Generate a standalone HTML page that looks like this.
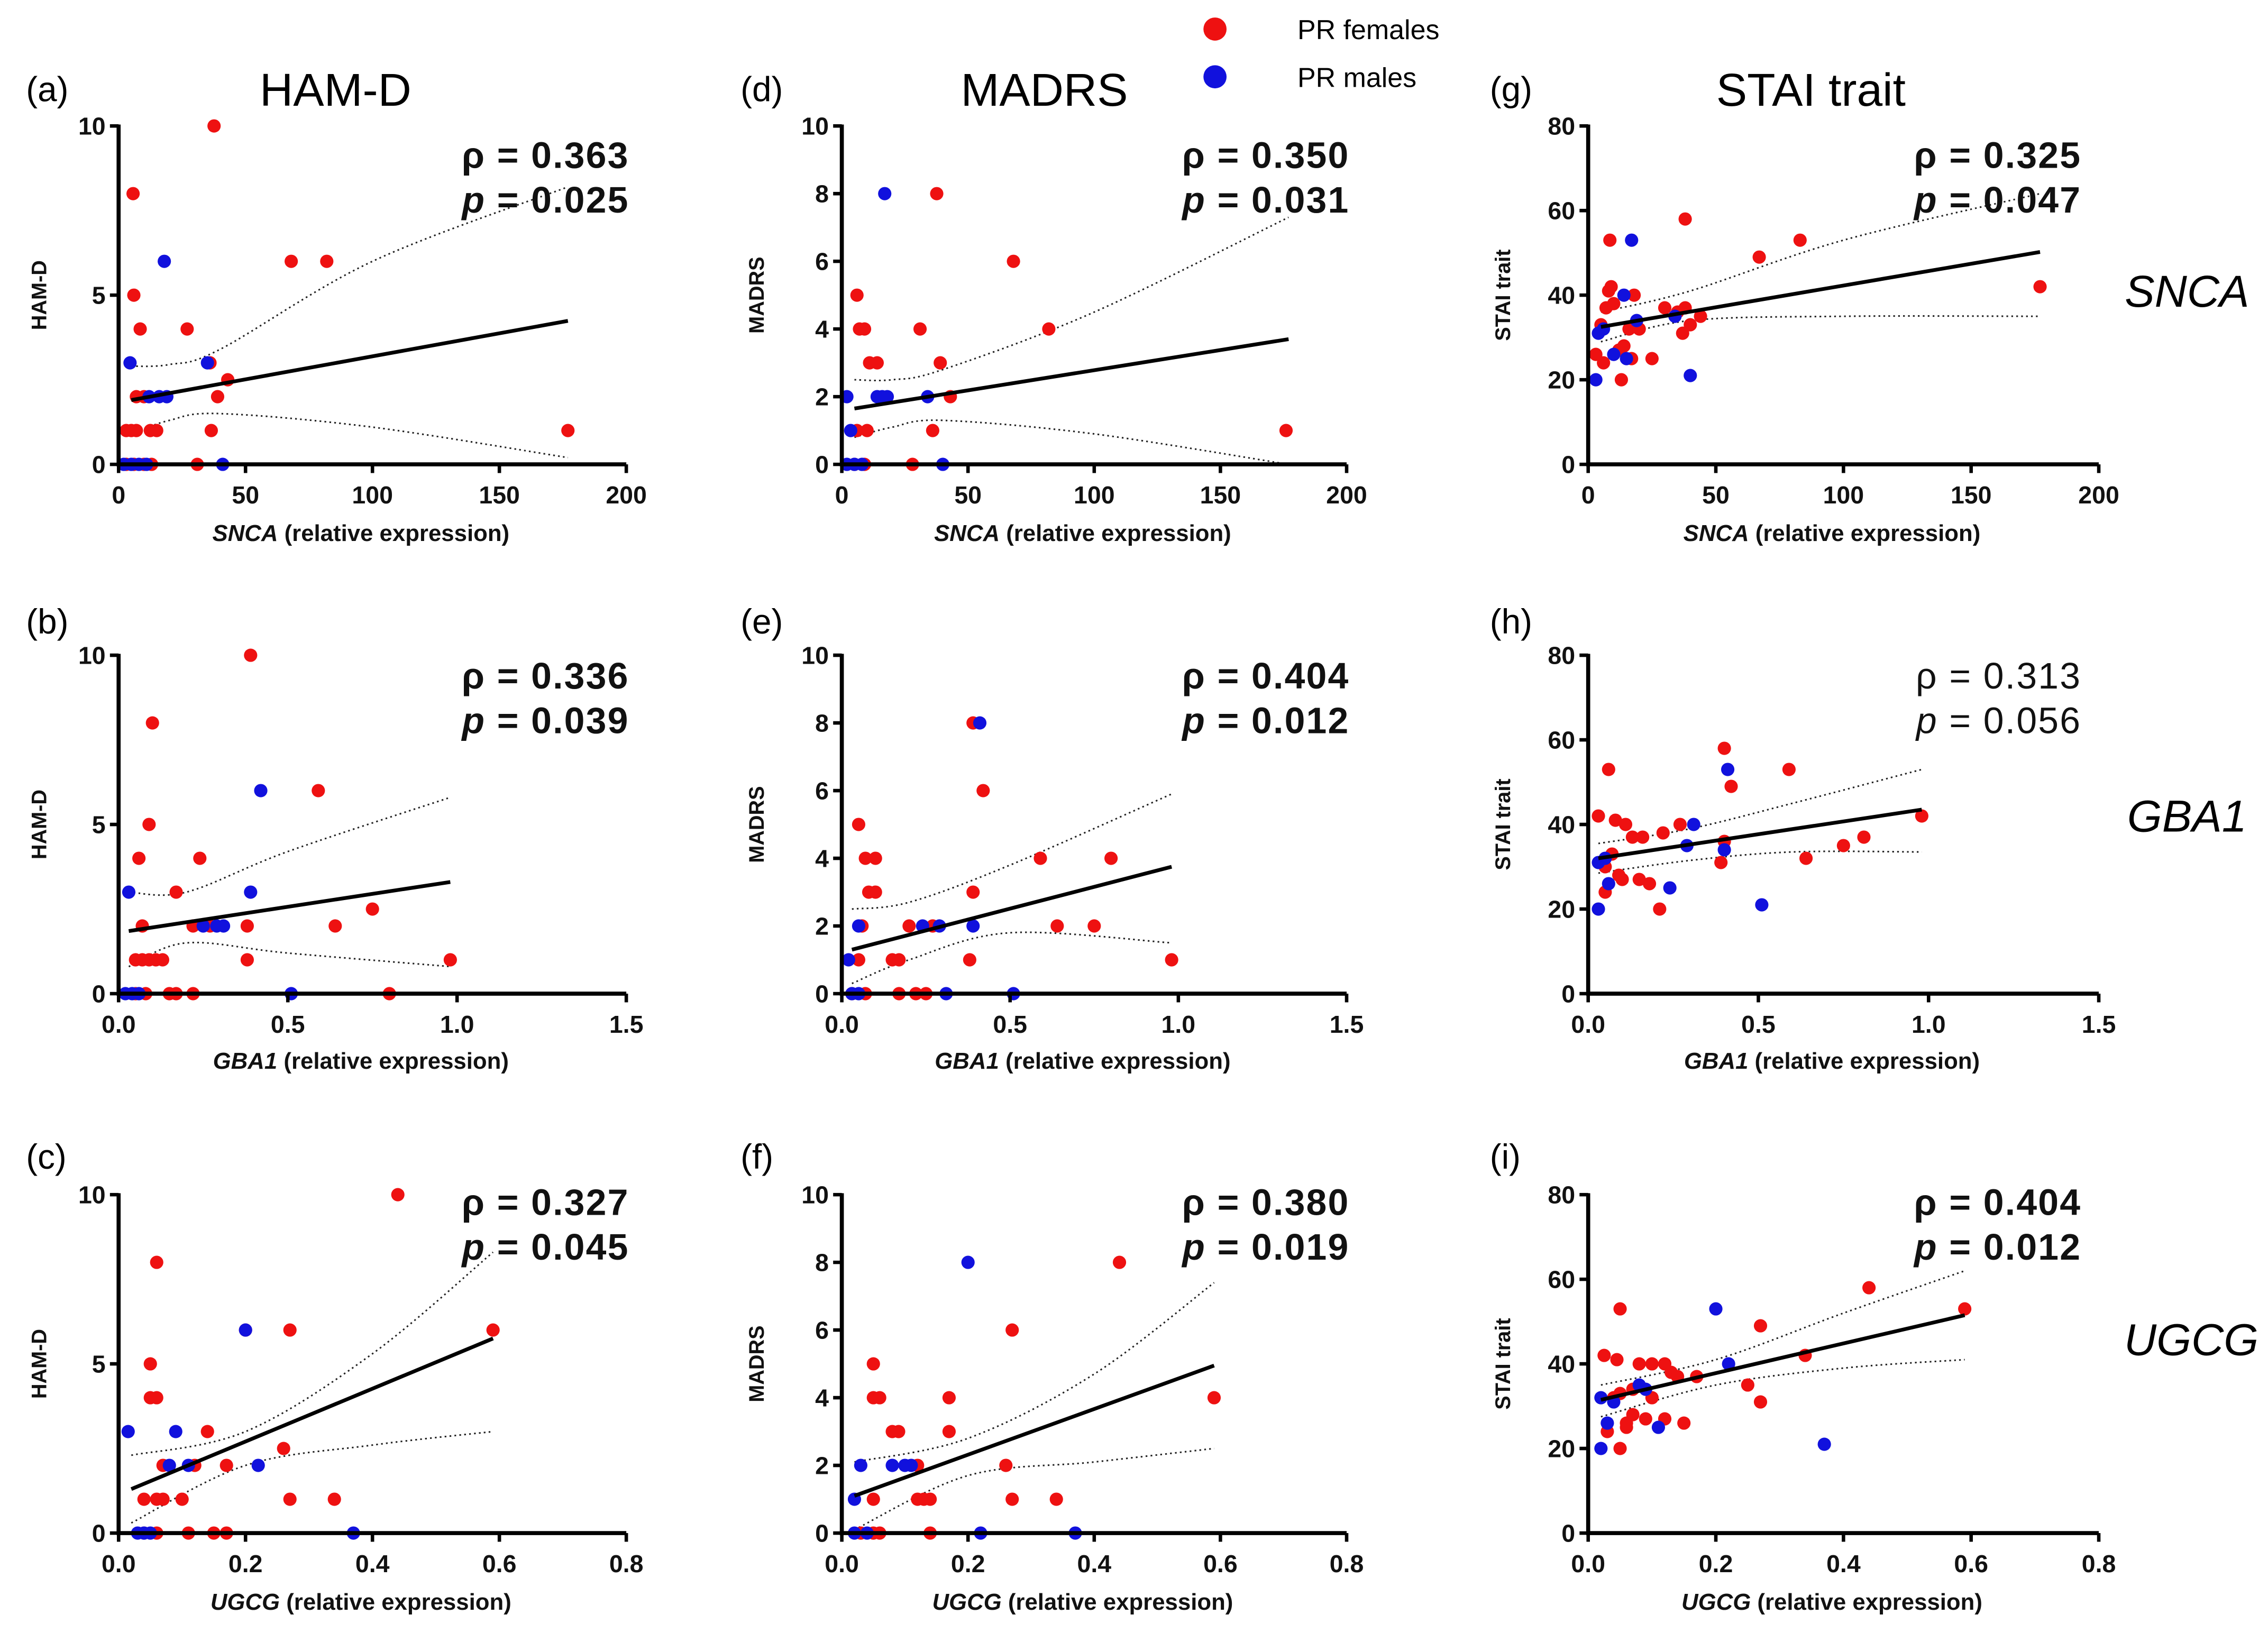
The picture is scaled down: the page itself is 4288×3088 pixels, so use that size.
<!DOCTYPE html>
<html><head><meta charset="utf-8"><style>
html,body{margin:0;padding:0;background:#fff;}
svg{display:block;font-family:"Liberation Sans",Arial,sans-serif;}
</style></head><body>
<svg id="fig" width="4288" height="3088" viewBox="0 0 1568 1129" xmlns="http://www.w3.org/2000/svg">
<rect width="1568" height="1129" fill="#fff"/>
<g>
<circle cx="840" cy="20" r="8" fill="#ee1111"/>
<text x="897" y="27" font-size="19">PR females</text>
<circle cx="840" cy="53" r="8" fill="#1111dd"/>
<text x="897" y="60" font-size="19">PR males</text>
</g>
<text x="232" y="73" font-size="32" text-anchor="middle">HAM-D</text>
<text x="722" y="73" font-size="32" text-anchor="middle">MADRS</text>
<text x="1252" y="73" font-size="32" text-anchor="middle">STAI trait</text>
<text x="1512" y="212" font-size="31" font-style="italic" text-anchor="middle">SNCA</text>
<text x="1512" y="575" font-size="31" font-style="italic" text-anchor="middle">GBA1</text>
<text x="1515" y="937" font-size="31" font-style="italic" text-anchor="middle">UGCG</text>
</svg>
<script>
// ---- data (x, y pairs) ----
const panelIds = ['a','b','c','d','e','f','g','h','i'];
const rhoLabels = ['0.363','0.336','0.327','0.350','0.404','0.380','0.325','0.313','0.404'];
const pLabels = ['0.025','0.039','0.045','0.031','0.012','0.019','0.047','0.056','0.012'];
const snacTicks = [0,50,100,150,200];
const gbaTicks = [0,0.5,1.0,1.5];
const ugcgTicks = [0,0.2,0.4,0.6,0.8];
const hamdTicks = [0,5,10];
const madrsTicks = [0,2,4,6,8,10];
const staiTicks = [0,20,40,60,80];

const redA = [[37.6,10],[5.7,8],[6,5],[8.5,4],[27,4],[68,6],[82,6],[36,3],[7,2],[10,2],[39,2],[43,2.5],[3,1],[5,1],[7,1],[12.5,1],[15,1],[36.5,1],[177,1],[3,0],[6,0],[10,0],[13,0],[31,0]];
const blueA = [[18,6],[4.5,3],[35,3],[12,2],[16,2],[19,2],[2,0],[5,0],[8,0],[11,0],[41,0]];
const fitA = [[5,1.9],[177,4.24]];
const ciUpA = [[5,2.9],[20,2.95],[40,3.4],[100,6.0],[177,8.2]];
const ciLoA = [[5,0.9],[20,1.3],[40,1.5],[100,1.1],[177,0.2]];

const redD = [[37.6,8],[68,6],[82,4],[31,4],[6,5],[7,4],[9,4],[11,3],[14,3],[39,3],[43,2],[6,1],[10,1],[36,1],[176,1],[5,0],[9,0],[28,0]];
const blueD = [[17,8],[2,2],[14,2],[16,2],[18,2],[34,2],[3.5,1],[2,0],[5,0],[8,0],[40,0]];
const fitD = [[5,1.65],[177,3.7]];
const ciUpD = [[5,2.5],[20,2.5],[40,2.8],[100,4.5],[177,7.3]];
const ciLoD = [[5,0.8],[20,1.1],[40,1.3],[100,0.9],[177,0]];

const redG = [[8.5,53],[38,58],[83,53],[67,49],[177,42],[5,33],[7,37],[8,41],[9,42],[10,38],[12,27],[14,28],[16,32],[18,40],[20,32],[3,26],[6,24],[25,25],[30,37],[35,36],[38,37],[40,33],[44,35],[13,20],[37,31],[17,25]];
const blueG = [[3,20],[4,31],[6,32],[10,26],[14,40],[17,53],[19,34],[34,35],[40,21],[15,25]];
const fitG = [[5,32.5],[177,50.2]];
const ciUpG = [[5,36],[40,41],[100,53],[177,64]];
const ciLoG = [[5,29],[40,34],[100,35],[177,35]];

const redB = [[0.39,10],[0.1,8],[0.09,5],[0.06,4],[0.24,4],[0.59,6],[0.17,3],[0.07,2],[0.22,2],[0.27,2],[0.38,2],[0.64,2],[0.75,2.5],[0.05,1],[0.07,1],[0.09,1],[0.11,1],[0.13,1],[0.38,1],[0.98,1],[0.15,0],[0.17,0],[0.22,0],[0.8,0],[0.05,0],[0.08,0]];
const blueB = [[0.42,6],[0.03,3],[0.39,3],[0.25,2],[0.29,2],[0.31,2],[0.04,0],[0.06,0],[0.02,0],[0.51,0]];
const fitB = [[0.03,1.85],[0.98,3.3]];
const ciUpB = [[0.03,3.0],[0.2,3.0],[0.5,4.2],[0.98,5.8]];
const ciLoB = [[0.03,0.8],[0.2,1.5],[0.5,1.2],[0.98,0.8]];

const redE = [[0.39,8],[0.42,6],[0.05,5],[0.07,4],[0.1,4],[0.59,4],[0.8,4],[0.08,3],[0.1,3],[0.39,3],[0.06,2],[0.2,2],[0.27,2],[0.64,2],[0.75,2],[0.05,1],[0.15,1],[0.17,1],[0.38,1],[0.98,1],[0.03,0],[0.07,0],[0.17,0],[0.22,0],[0.25,0]];
const blueE = [[0.41,8],[0.05,2],[0.24,2],[0.29,2],[0.39,2],[0.02,1],[0.03,0],[0.05,0],[0.31,0],[0.51,0]];
const fitE = [[0.03,1.3],[0.98,3.75]];
const ciUpE = [[0.03,2.5],[0.2,2.7],[0.5,3.8],[0.98,5.9]];
const ciLoE = [[0.03,0.3],[0.2,1.0],[0.5,1.8],[0.98,1.5]];

const redH = [[0.06,53],[0.4,58],[0.59,53],[0.42,49],[0.03,42],[0.08,41],[0.11,40],[0.13,37],[0.16,37],[0.22,38],[0.27,40],[0.4,36],[0.75,35],[0.81,37],[0.98,42],[0.05,30],[0.09,28],[0.1,27],[0.15,27],[0.18,26],[0.39,31],[0.64,32],[0.05,24],[0.21,20],[0.07,33]];
const blueH = [[0.41,53],[0.31,40],[0.03,31],[0.05,32],[0.06,26],[0.03,20],[0.24,25],[0.29,35],[0.4,34],[0.51,21]];
const fitH = [[0.03,32],[0.98,43.5]];
const ciUpH = [[0.03,35.5],[0.3,39],[0.6,45],[0.98,53]];
const ciLoH = [[0.03,28.5],[0.3,31.5],[0.6,33.5],[0.98,33.5]];

const redC = [[0.44,10],[0.06,8],[0.2,6],[0.27,6],[0.59,6],[0.05,5],[0.05,4],[0.06,4],[0.14,3],[0.26,2.5],[0.17,2],[0.12,2],[0.07,2],[0.1,1],[0.04,1],[0.06,1],[0.07,1],[0.27,1],[0.34,1],[0.11,0],[0.15,0],[0.17,0],[0.06,0],[0.04,0]];
const blueC = [[0.2,6],[0.09,3],[0.015,3],[0.08,2],[0.11,2],[0.22,2],[0.37,0],[0.03,0],[0.04,0],[0.05,0]];
const fitC = [[0.02,1.3],[0.59,5.75]];
const ciUpC = [[0.02,2.3],[0.2,3.0],[0.4,5.3],[0.59,8.3]];
const ciLoC = [[0.02,0.3],[0.2,2.0],[0.4,2.6],[0.59,3.0]];

const redF = [[0.44,8],[0.27,6],[0.59,4],[0.05,5],[0.05,4],[0.06,4],[0.17,4],[0.08,3],[0.09,3],[0.17,3],[0.26,2],[0.12,2],[0.05,1],[0.12,1],[0.13,1],[0.14,1],[0.27,1],[0.34,1],[0.03,0],[0.05,0],[0.06,0],[0.14,0]];
const blueF = [[0.2,8],[0.03,2],[0.08,2],[0.1,2],[0.11,2],[0.02,1],[0.22,0],[0.37,0],[0.02,0],[0.04,0]];
const fitF = [[0.02,1.1],[0.59,4.95]];
const ciUpF = [[0.02,2.1],[0.2,2.8],[0.4,4.7],[0.59,7.4]];
const ciLoF = [[0.02,0.1],[0.2,1.7],[0.4,2.1],[0.59,2.5]];

const redI = [[0.59,53],[0.44,58],[0.05,53],[0.27,49],[0.34,42],[0.025,42],[0.045,41],[0.08,40],[0.1,40],[0.12,40],[0.13,38],[0.14,37],[0.17,37],[0.25,35],[0.07,34],[0.05,33],[0.04,32],[0.27,31],[0.1,32],[0.07,28],[0.09,27],[0.06,26],[0.12,27],[0.15,26],[0.03,24],[0.05,20],[0.06,25]];
const blueI = [[0.2,53],[0.22,40],[0.04,31],[0.08,35],[0.09,34],[0.02,32],[0.03,26],[0.02,20],[0.11,25],[0.37,21]];
const fitI = [[0.02,31.5],[0.59,51.5]];
const ciUpI = [[0.02,35],[0.2,41],[0.4,52],[0.59,62]];
const ciLoI = [[0.02,27.5],[0.2,35],[0.4,39],[0.59,41]];

// ---- layout ----
const NS='http://www.w3.org/2000/svg';
const svg=document.getElementById('fig');
function el(tag,attrs,parent){const e=document.createElementNS(NS,tag);for(const k in attrs)e.setAttribute(k,attrs[k]);(parent||svg).appendChild(e);return e;}
const colX=[[82,433],[582,931],[1098,1451]];
const rowY=[[321,87],[687,453],[1060,826]];
const xTitleY=[374,739,1113];
const yTitleX=[32,528,1044];
const letterX=[18,512,1030];
const letterY=[70,438,808];
const statY=[116,476,840];
const genes=['SNCA','GBA1','UGCG'];
const xTickSets=[snacTicks,gbaTicks,ugcgTicks];
const xMaxes=[200,1.5,0.8];
const yTickSets=[hamdTicks,madrsTicks,staiTicks];
const yMaxes=[10,10,80];
const yNames=['HAM-D','MADRS','STAI trait'];
const reds=[[redA,redB,redC],[redD,redE,redF],[redG,redH,redI]];
const blues=[[blueA,blueB,blueC],[blueD,blueE,blueF],[blueG,blueH,blueI]];
const fits=[[fitA,fitB,fitC],[fitD,fitE,fitF],[fitG,fitH,fitI]];
const ups=[[ciUpA,ciUpB,ciUpC],[ciUpD,ciUpE,ciUpF],[ciUpG,ciUpH,ciUpI]];
const los=[[ciLoA,ciLoB,ciLoC],[ciLoD,ciLoE,ciLoF],[ciLoG,ciLoH,ciLoI]];

function fmtX(v,r){return r===0?String(v):v.toFixed(1);}

function smoothPath(pts,sx,sy){
  const P=pts.map(p=>[sx(p[0]),sy(p[1])]);
  let d='M'+P[0][0]+','+P[0][1];
  for(let i=0;i<P.length-1;i++){
    const p0=P[Math.max(0,i-1)],p1=P[i],p2=P[i+1],p3=P[Math.min(P.length-1,i+2)];
    const c1=[p1[0]+(p2[0]-p0[0])/6,p1[1]+(p2[1]-p0[1])/6];
    const c2=[p2[0]-(p3[0]-p1[0])/6,p2[1]-(p3[1]-p1[1])/6];
    d+=' C'+c1[0]+','+c1[1]+' '+c2[0]+','+c2[1]+' '+p2[0]+','+p2[1];
  }
  return d;
}

for(let c=0;c<3;c++){
  for(let r=0;r<3;r++){
    const idx=c*3+r;
    const id=panelIds[idx];
    const [x0,x1]=colX[c];const [y0,y1]=rowY[r];
    const xm=xMaxes[r], ym=yMaxes[c];
    const sx=v=>x0+(x1-x0)*v/xm;
    const sy=v=>y0+(y1-y0)*v/ym;
    const g=el('g',{});
    
    
    const lt=el('text',{x:letterX[c],y:letterY[r],'font-size':24},g);lt.textContent='('+id+')';
    
    
    const cu=el('path',{d:smoothPath(ups[c][r],sx,sy),fill:'none',stroke:'#222','stroke-width':1.1,'stroke-dasharray':'1.2,2.2'},g);
    
    
    const cl=el('path',{d:smoothPath(los[c][r],sx,sy),fill:'none',stroke:'#222','stroke-width':1.1,'stroke-dasharray':'1.2,2.2'},g);
    
    
    reds[c][r].forEach(p=>{const e=el('circle',{cx:sx(p[0]),cy:sy(p[1]),r:4.6,fill:'#ee1111'},g);
      
      });
    blues[c][r].forEach(p=>{const e=el('circle',{cx:sx(p[0]),cy:sy(p[1]),r:4.6,fill:'#1111dd'},g);
      
      });
    const f=fits[c][r];
    const fl=el('line',{x1:sx(f[0][0]),y1:sy(f[0][1]),x2:sx(f[1][0]),y2:sy(f[1][1]),stroke:'#000','stroke-width':2.6},g);
    
    
    const ax=el('path',{d:'M'+x0+','+(y1-1)+' L'+x0+','+y0+' L'+x1+','+y0,fill:'none',stroke:'#000','stroke-width':2.8},g);
    
    
    xTickSets[r].forEach(t=>{
      el('line',{x1:sx(t),y1:y0,x2:sx(t),y2:y0+6,stroke:'#000','stroke-width':2.4},g);
      const tx=el('text',{x:sx(t),y:y0+27,'font-size':17,'font-weight':'bold','text-anchor':'middle',fill:'#111'},g);
      tx.textContent=fmtX(t,r);
      
      
    });
    yTickSets[c].forEach(t=>{
      el('line',{x1:x0-6,y1:sy(t),x2:x0,y2:sy(t),stroke:'#000','stroke-width':2.4},g);
      const ty=el('text',{x:x0-9,y:sy(t)+6,'font-size':17,'font-weight':'bold','text-anchor':'end',fill:'#111'},g);
      ty.textContent=String(t);
      
      
    });
    const xt=el('text',{x:(x0+x1)/2-8,y:xTitleY[r],'font-size':16,'font-weight':'bold','text-anchor':'middle',fill:'#111'},g);
    xt.innerHTML='<tspan font-style="italic">'+genes[r]+'</tspan> (relative expression)';
    
    
    const yc=(y0+y1)/2;
    const yt=el('text',{x:yTitleX[c],y:yc,'font-size':14.5,'font-weight':'bold','text-anchor':'middle',transform:'rotate(-90 '+yTitleX[c]+' '+yc+')',fill:'#111'},g);
    yt.textContent=yNames[c];
    
    
    const bold = id==='h' ? 'normal':'bold';
    const sxr = c===2 ? x1-12 : x1+2;
    const s1=el('text',{x:sxr,y:statY[r],'font-size':25.5,'font-weight':bold,'text-anchor':'end',fill:'#111','letter-spacing':'0.8'},g);
    s1.textContent='ρ = '+rhoLabels[idx];
    
    
    const s2=el('text',{x:sxr,y:statY[r]+31,'font-size':25.5,'font-weight':bold,'text-anchor':'end',fill:'#111','letter-spacing':'0.8'},g);
    s2.innerHTML='<tspan font-style="italic">p</tspan> = '+pLabels[idx];
    
    
  }
}
</script>
</body></html>
